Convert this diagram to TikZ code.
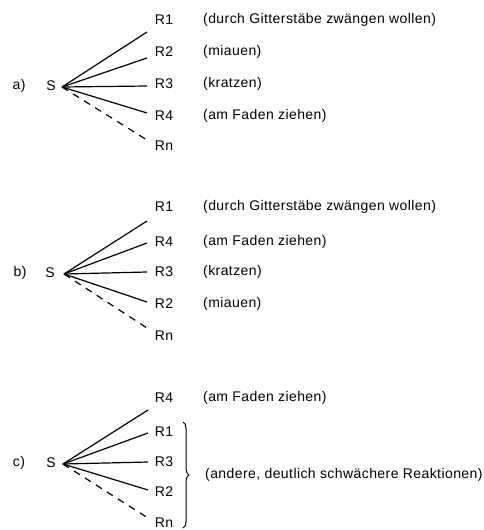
\documentclass[tikz,border=0pt]{standalone}
\usepackage{fontspec}
\setmainfont{Liberation Sans}[LetterSpace=3]
\usetikzlibrary{decorations.pathreplacing}
\begin{document}
\begin{tikzpicture}[x=1pt,y=-1pt,
  lbl/.style={inner sep=0pt,font=\fontsize{14}{16}\selectfont},
  desc/.style={lbl,anchor=west},
  link/.style={line width=1.2pt},
  weak/.style={line width=1.2pt,dash pattern=on 7pt off 6pt}]
\useasboundingbox (0,0) rectangle (483,530);

% ---- a) ----
\node[lbl] (la) at (19,86) {a)};
\node[lbl] (sa) at (51,86) {S};
\coordinate (ca) at (62,87);
\node[lbl] (a1) at (164,20) {R1};
\node[lbl] (a2) at (164,52) {R2};
\node[lbl] (a3) at (164,84) {R3};
\node[lbl] (a4) at (164,116) {R4};
\node[lbl] (an) at (164,146) {Rn};
\coordinate (ea1) at (147,32);
\coordinate (ea2) at (147,58);
\coordinate (ea3) at (147,86);
\coordinate (ea4) at (147,113);
\coordinate (ean) at (147,140);
\draw[link] (ca) -- (ea1);
\draw[link] (ca) -- (ea2);
\draw[link] (ca) -- (ea3);
\draw[link] (ca) -- (ea4);
\draw[weak] (ca) -- (ean);
\node[desc] (da1) at (203,20) {(durch Gitterstäbe zwängen wollen)};
\node[desc] (da2) at (203,52) {(miauen)};
\node[desc] (da3) at (203,84) {(kratzen)};
\node[desc] (da4) at (203,116) {(am Faden ziehen)};

% ---- b) ----
\node[lbl] (lb) at (20,273) {b)};
\node[lbl] (sb) at (50,273) {S};
\coordinate (cb) at (64,274);
\node[lbl] (b1) at (164,207) {R1};
\node[lbl] (b4) at (164,242) {R4};
\node[lbl] (b3) at (164,272) {R3};
\node[lbl] (b2) at (164,304) {R2};
\node[lbl] (bn) at (164,336) {Rn};
\coordinate (eb1) at (147,221);
\coordinate (eb4) at (147,243);
\coordinate (eb3) at (147,272);
\coordinate (eb2) at (147,302);
\coordinate (ebn) at (147,328);
\draw[link] (cb) -- (eb1);
\draw[link] (cb) -- (eb4);
\draw[link] (cb) -- (eb3);
\draw[link] (cb) -- (eb2);
\draw[weak] (cb) -- (ebn);
\node[desc] (db1) at (203,207) {(durch Gitterstäbe zwängen wollen)};
\node[desc] (db4) at (203,242) {(am Faden ziehen)};
\node[desc] (db3) at (203,272) {(kratzen)};
\node[desc] (db2) at (203,304) {(miauen)};

% ---- c) ----
\node[lbl] (lc) at (19,463) {c)};
\node[lbl] (sc) at (51,463) {S};
\coordinate (cc) at (63,464);
\node[lbl] (c4) at (164,398) {R4};
\node[lbl] (c1) at (164,432) {R1};
\node[lbl] (c3) at (164,462) {R3};
\node[lbl] (c2) at (164,492) {R2};
\node[lbl] (cn) at (164,523) {Rn};
\coordinate (ec4) at (148,410);
\coordinate (ec1) at (148,433);
\coordinate (ec3) at (148,462);
\coordinate (ec2) at (148,490);
\coordinate (ecn) at (148,518);
\draw[link] (cc) -- (ec4);
\draw[link] (cc) -- (ec1);
\draw[link] (cc) -- (ec3);
\draw[link] (cc) -- (ec2);
\draw[weak] (cc) -- (ecn);
\node[desc] (dc4) at (203,398) {(am Faden ziehen)};
\coordinate (bt) at (183,422);
\coordinate (bb) at (183,528);
\draw[line width=1pt,decorate,decoration={brace,amplitude=6pt}] (bt) -- (bb);
\node[desc] (dcw) at (205,475) {(andere, deutlich schwächere Reaktionen)};
\end{tikzpicture}
\end{document}
